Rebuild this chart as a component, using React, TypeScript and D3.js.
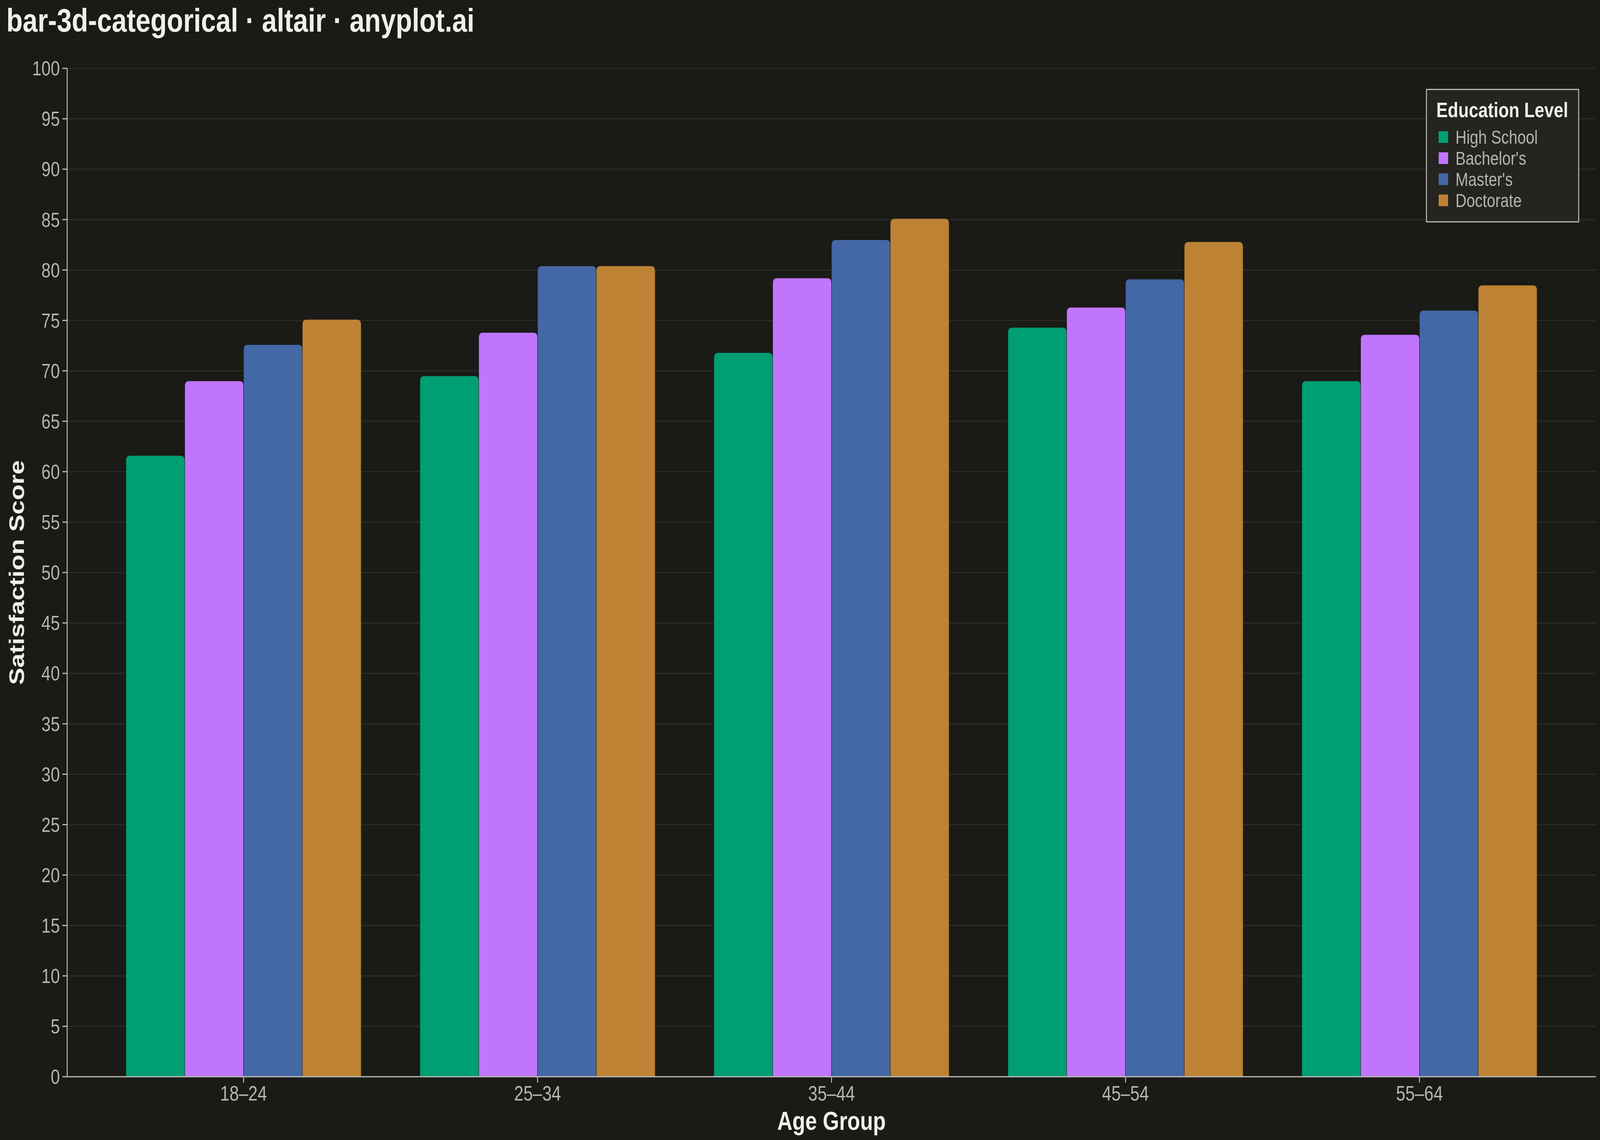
import React from 'react';
import * as d3 from 'd3';

// data
const ageGroups = ['18–24', '25–34', '35–44', '45–54', '55–64'];
const educationLevels = ['High School', "Bachelor's", "Master's", 'Doctorate'];
const highSchool = [61.6, 69.5, 71.8, 74.3, 69.0];
const bachelors = [69.0, 73.8, 79.2, 76.3, 73.6];
const masters = [72.6, 80.4, 83.0, 79.1, 76.0];
const doctorate = [75.1, 80.4, 85.1, 82.8, 78.5];
const yTicks = d3.range(0, 101, 5);

const seriesValues = [highSchool, bachelors, masters, doctorate];
const palette = ['#009E73', '#C175FD', '#4467A6', '#BD8234'];

const W = 5025;
const H = 2919;
const margin = { top: 175, right: 13, bottom: 162, left: 211 };
const BG = '#1A1A17';
const GRID = '#2D2D29';
const AXIS = '#BDBDB5';
const TEXT = '#F0F0E8';
const MUTED = '#B5B5AD';
const FONT = '"Liberation Sans", Arial, sans-serif';

// bar with rounded top corners only
function topRoundedBar(x: number, y: number, w: number, h: number, r: number) {
  const rr = Math.min(r, w / 2, h);
  return `M${x},${y + h}V${y + rr}Q${x},${y} ${x + rr},${y}H${x + w - rr}Q${x + w},${y} ${x + w},${y + rr}V${y + h}Z`;
}

const App = () => {
  const x0 = margin.left;
  const x1 = W - margin.right;
  const y0 = H - margin.bottom;
  const y1 = margin.top;

  const xScale = d3.scaleBand<string>().domain(ageGroups).range([x0, x1]).paddingInner(0.2).paddingOuter(0.2);
  const inner = d3.scaleBand<string>().domain(educationLevels).range([0, xScale.bandwidth()]).padding(0);
  const yScale = d3.scaleLinear().domain([0, 100]).range([y0, y1]);
  const color = d3.scaleOrdinal<string, string>().domain(educationLevels).range(palette);

  const rows = ageGroups.flatMap((g, gi) =>
    educationLevels.map((lvl, li) => ({ group: g, level: lvl, value: seriesValues[li][gi] }))
  );

  const legendX = 4480;
  const legendY = 229;

  return (
    <div style={{ margin: 0, padding: 0, background: BG }}>
      <style>{'html,body{margin:0;padding:0;overflow:hidden;background:' + BG + '}'}</style>
      <svg
        viewBox={`0 0 ${W} ${H}`}
        preserveAspectRatio="none"
        style={{ position: 'fixed', left: 0, top: 0, width: '100vw', height: '100vh', display: 'block' }}
        fontFamily={FONT}
      >
        <rect x={0} y={0} width={W} height={H} fill={BG} />

        <text x={20} y={81} fontSize={84} fontWeight="bold" fill={TEXT}>
          bar-3d-categorical · altair · anyplot.ai
        </text>

        {/* grid */}
        {yTicks.map((t) => (
          <line key={'g' + t} x1={x0} x2={x1} y1={yScale(t)} y2={yScale(t)} stroke={GRID} strokeWidth={2.7} />
        ))}

        {/* bars */}
        {rows.map((d, i) => {
          const bx = (xScale(d.group) ?? 0) + (inner(d.level) ?? 0);
          const by = yScale(d.value);
          return (
            <path
              key={i}
              d={topRoundedBar(bx, by, inner.bandwidth(), y0 - by, 13)}
              fill={color(d.level)}
              stroke="#1A1A17"
              strokeOpacity={0.6}
              strokeWidth={1.6}
            />
          );
        })}

        {/* y axis */}
        <line x1={x0} x2={x0} y1={y1} y2={y0} stroke={AXIS} strokeWidth={3} />
        {yTicks.map((t) => (
          <g key={'y' + t} transform={`translate(${x0},${yScale(t)})`}>
            <line x1={-15} x2={0} stroke={AXIS} strokeWidth={3} />
            <text x={-23} dy="0.35em" textAnchor="end" fontSize={52} fill={MUTED}>
              {t}
            </text>
          </g>
        ))}
        <text
          transform={`translate(75,${(y0 + y1) / 2}) rotate(-90)`}
          textAnchor="middle"
          fontSize={66}
          fontWeight="bold"
          fill={TEXT}
        >
          Satisfaction Score
        </text>

        {/* x axis */}
        <line x1={x0} x2={x1} y1={y0} y2={y0} stroke={AXIS} strokeWidth={3} />
        {ageGroups.map((g) => {
          const cx = (xScale(g) ?? 0) + xScale.bandwidth() / 2;
          return (
            <g key={'x' + g} transform={`translate(${cx},${y0})`}>
              <line y1={0} y2={15} stroke={AXIS} strokeWidth={3} />
              <text y={61} textAnchor="middle" fontSize={53} fill={MUTED}>
                {g}
              </text>
            </g>
          );
        })}
        <text x={(x0 + x1) / 2} y={2893} textAnchor="middle" fontSize={66} fontWeight="bold" fill={TEXT}>
          Age Group
        </text>

        {/* legend */}
        <g transform={`translate(${legendX},${legendY})`}>
          <rect x={0} y={0} width={478} height={339} fill="#242420" stroke="#BEBEB6" strokeWidth={3} />
          <text x={31} y={71} fontSize={54} fontWeight="bold" fill={TEXT}>
            Education Level
          </text>
          {educationLevels.map((lvl, i) => (
            <g key={lvl} transform={`translate(38,${122 + i * 54})`}>
              <rect x={0} y={-15} width={30} height={30} fill={color(lvl)} />
              <text x={53} y={0} dy="0.35em" fontSize={48} fill={MUTED}>
                {lvl}
              </text>
            </g>
          ))}
        </g>
      </svg>
    </div>
  );
};

export default App;
